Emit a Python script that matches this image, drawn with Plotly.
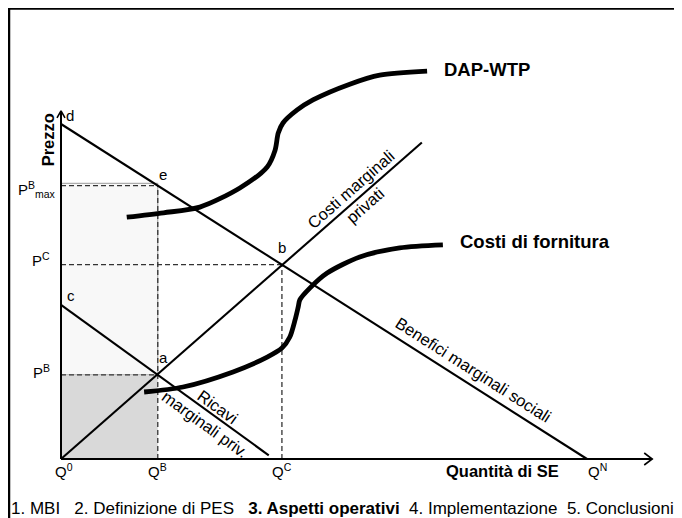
import math
import plotly.graph_objects as go

# ---------------- data (quantity units: Q0=0 .. QN=100, price units: 0 .. d=100)
q_names = ["Q<sup>0</sup>", "Q<sup>B</sup>", "Q<sup>C</sup>", "Q<sup>N</sup>"]
q_values = [0, 18.4, 42.0, 100]
p_names = ["P<sup>B</sup><sub>max</sub>", "P<sup>C</sup>", "P<sup>B</sup>"]
p_values = [81.6, 58.0, 25.1]
d_value = 100
c_value = 46.0

# Benefici marginali sociali (d -> QN)
bms_x = [0, 100]
bms_y = [100, 0]
# Costi marginali privati
cmp_x = [0, 68.6]
cmp_y = [0, 94.5]
# Ricavi marginali privati
rmp_x = [0, 39.5]
rmp_y = [46.0, 1.1]
# DAP-WTP curve
dap_x = [12.5, 19.5, 26.4, 34.0, 39.2, 40.7, 41.3, 42.2, 44.9, 47.9, 54.9, 60.6, 69.6]
dap_y = [72.2, 73.5, 75.2, 80.9, 87.2, 92.2, 97.3, 100.3, 104.2, 107.2, 111.9, 114.6, 115.8]
# Costi di fornitura curve
cf_x = [15.8, 23.2, 32.7, 39.2, 42.0, 43.5, 44.5, 45.1, 45.4, 47.3, 50.6, 56.8, 64.4, 72.6]
cf_y = [20.0, 21.5, 26.0, 30.4, 33.1, 36.4, 41.5, 45.4, 47.5, 51.0, 55.5, 60.3, 63.0, 63.9]

x_axis_end = 112.4
y_axis_end = 103.9

footer_parts = ["1. MBI", "2. Definizione di PES", "<b>3. Aspetti operativi</b>",
                "4. Implementazione", "5. Conclusioni"]

# ---------------- figure geometry
W, H = 674, 510
XR = [-10.076, 118.06]
YR = [-17.612, 134.63]
SX = W / (XR[1] - XR[0])
SY = H / (YR[1] - YR[0])


def ang(xs, ys):
    return -math.degrees(math.atan2((ys[1] - ys[0]) * SY, (xs[1] - xs[0]) * SX))


QB, QC, QN = q_values[1], q_values[2], q_values[3]
PBmax, PC, PB = p_values

fig = go.Figure()
shapes = []

# shaded areas
shapes.append(dict(type="rect", xref="x", yref="y", x0=0, x1=QB, y0=PB, y1=PBmax + 0.7,
                   fillcolor="#f8f8f8", line=dict(color="#9a9a9a", width=1), layer="below"))
shapes.append(dict(type="rect", xref="x", yref="y", x0=0, x1=QB, y0=0, y1=PB,
                   fillcolor="#d9d9d9", line=dict(width=0), layer="below"))

# frame (top and left)
shapes.append(dict(type="line", xref="paper", yref="paper", x0=0, x1=1.02, y0=1 - 0.6 / H, y1=1 - 0.6 / H,
                   line=dict(color="black", width=2.5)))
shapes.append(dict(type="line", xref="paper", yref="paper", x0=1 / W, x1=1 / W, y0=1, y1=-0.02,
                   line=dict(color="black", width=2.5)))

dash_style = dict(color="#333333", width=1.3, dash="5px,3px")


def seg(xs, ys, line):
    fig.add_trace(go.Scatter(x=xs, y=ys, mode="lines", line=line, hoverinfo="skip", showlegend=False))


# dashed guides
seg([0, QB], [PBmax, PBmax], dash_style)
seg([QB, QB], [0, PBmax], dash_style)
seg([0, QC], [PC, PC], dash_style)
seg([QC, QC], [0, PC], dash_style)
seg([0, QB], [PB, PB], dash_style)

main = dict(color="black", width=2.1)
seg(bms_x, bms_y, main)
seg(cmp_x, cmp_y, main)
seg(rmp_x, rmp_y, main)

thick = dict(color="black", width=4.8, shape="spline", smoothing=0.8)
seg(dap_x, dap_y, thick)
seg(cf_x, cf_y, thick)

# axes with open arrow heads
ax_line = dict(color="black", width=2)
seg([0, x_axis_end], [0, 0], ax_line)
seg([0, 0], [0, y_axis_end], ax_line)
ahx, ahy = 8 / SX, 6 / SY
seg([x_axis_end - ahx, x_axis_end, x_axis_end - ahx], [ahy, 0, -ahy], dict(color="black", width=1.6))
avx, avy = 4 / SX, 7 / SY
seg([-avx, 0, avx], [y_axis_end - avy, y_axis_end, y_axis_end - avy], dict(color="black", width=1.6))

FONT = "Liberation Sans, Arial, sans-serif"
ann = []


def txt(x, y, t, size=15, xa="center", ya="middle", angle=0, color="black"):
    ann.append(dict(x=x, y=y, xref="x", yref="y", text=t, showarrow=False, xanchor=xa, yanchor=ya,
                    textangle=angle, font=dict(family=FONT, size=size, color=color)))


# point labels
txt(0.5, d_value + 2.4, "d", xa="left")
txt(QB + 1.0, PBmax + 3.2, "e")
txt(QB + 1.0, PB + 5.3, "a")
txt(QC, PC + 5.0, "b")
txt(0.8, c_value + 2.7, "c", xa="left")

# price labels
txt(-0.6, PBmax - 1.0, p_names[0], xa="right")
txt(-1.8, PC + 1.6, p_names[1], xa="right")
txt(-1.8, PB + 1.0, p_names[2], xa="right")

# quantity labels
for i, (nm, v) in enumerate(zip(q_names, q_values)):
    xx = v + (0.6 if i == 0 else 0) + (1.9 if i == 3 else 0)
    txt(xx, -3.3, nm)

txt(84.0, -3.5, "<b>Quantità di SE</b>", size=16.5)
txt(-2.3, 95.4, "<b>Prezzo</b>", size=16.5, angle=-90)
txt(72.4, 116.4, "<b>DAP-WTP</b>", size=18.5, xa="left")
txt(75.5, 64.8, "<b>Costi di fornitura</b>", size=18.5, xa="left")

txt(56.3, 78.2, "Costi marginali<br>privati", size=16.5, angle=ang(cmp_x, cmp_y))
txt(78.5, 26.6, "Benefici marginali sociali", size=16.5, angle=ang(bms_x, bms_y))
txt(28.7, 13.1, "Ricavi<br>marginali priv.", size=16.5, angle=ang(rmp_x, rmp_y))

nb = "\u00a0"
footer = (footer_parts[0] + nb * 3 + footer_parts[1] + nb * 3 + footer_parts[2] + nb * 2 +
          footer_parts[3] + nb * 2 + footer_parts[4])
txt(-9.85, -14.8, footer, size=17, xa="left")

fig.update_layout(
    width=W, height=H, autosize=False,
    margin=dict(l=0, r=0, t=0, b=0, pad=0),
    paper_bgcolor="white", plot_bgcolor="white",
    xaxis=dict(range=XR, visible=False, fixedrange=True),
    yaxis=dict(range=YR, visible=False, fixedrange=True),
    shapes=shapes, annotations=ann, showlegend=False,
)

fig.write_html("out.html")
